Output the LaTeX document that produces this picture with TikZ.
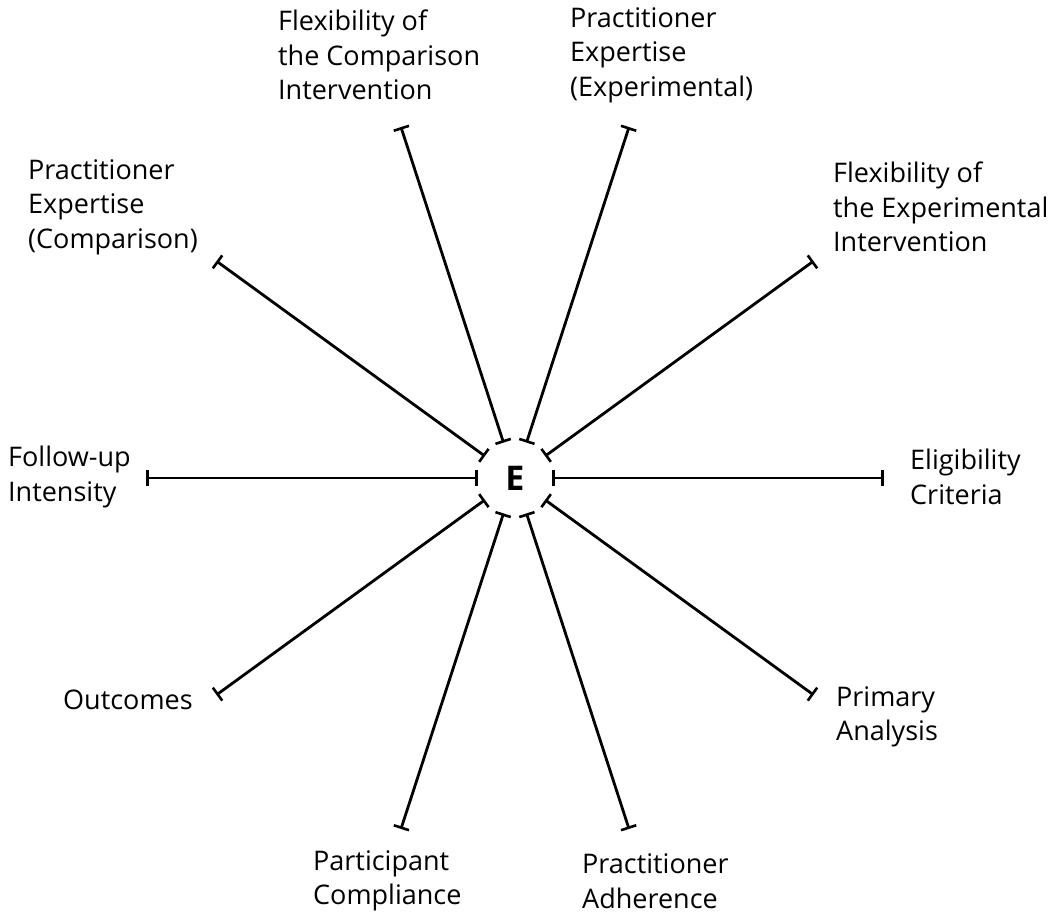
\documentclass[tikz,border=0pt]{standalone}
\usepackage{fontspec}
\setmainfont{Open Sans}
\usetikzlibrary{arrows.meta,calc}
\begin{document}
\begin{tikzpicture}[x=1pt,y=1pt,
  spoke/.style={line width=2.8pt,{Bar[width=16pt,line width=2.6pt]}-{Bar[width=16pt,line width=2.6pt]}},
  lbl/.style={anchor=west,align=left,inner sep=0pt,font=\fontsize{27}{34.5}\selectfont}]
\useasboundingbox (0,0) rectangle (1050,-915);
\node[circle,minimum size=74pt,inner sep=0pt,font=\fontsize{34}{34}\selectfont\bfseries] (E) at (515,-478) {E};
\foreach \a [count=\i] in {0,36,72,108,144,180,216,252,288,324}{
  \coordinate (o\i) at ($(E.center)+(\a:369)$);
  \draw[spoke] (E.\a) -- (o\i);
}
\node[lbl] (l1) at (910,-477) {Eligibility\\Criteria};
\node[lbl] (l2) at (833,-207) {Flexibility of\\the Experimental\\Intervention};
\node[lbl] (l3) at (570,-55) {Practitioner\\Expertise\\(Experimental)};
\node[lbl] (l4) at (278,-55) {Flexibility of\\the Comparison\\Intervention};
\node[lbl] (l5) at (28,-207) {Practitioner\\Expertise\\(Comparison)};
\node[lbl] (l6) at (8,-477) {Follow-up\\Intensity};
\node[lbl] (l7) at (63,-700) {Outcomes};
\node[lbl] (l8) at (313,-881) {Participant\\Compliance};
\node[lbl] (l9) at (582,-881) {Practitioner\\Adherence};
\node[lbl] (l10) at (836,-717) {Primary\\Analysis};
\end{tikzpicture}
\end{document}
